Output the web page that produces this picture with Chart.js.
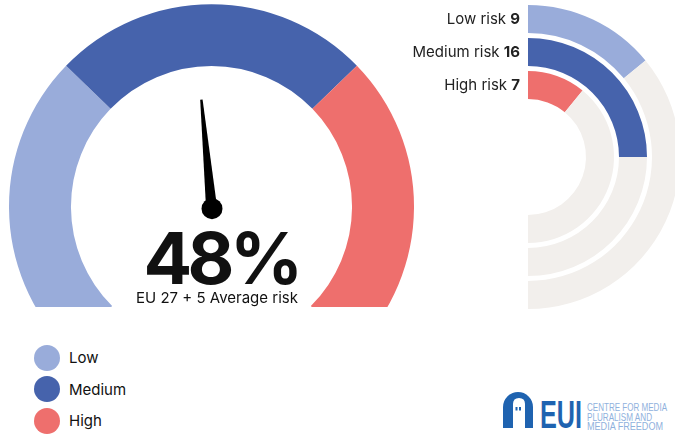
<!DOCTYPE html>
<html>
<head>
<meta charset="utf-8">
<script src="https://cdn.jsdelivr.net/npm/chart.js@4.4.1/dist/chart.umd.min.js"></script>
<style>
  html, body { margin: 0; padding: 0; background: #fff; }
  body { width: 675px; height: 434px; position: relative; overflow: hidden; font-family: Inter, "Noto Sans", sans-serif; color: #111; }
  #gaugeBox { position: absolute; left: 0; top: 0; width: 420px; height: 307px; overflow: hidden; }
  #gauge { position: absolute; left: 9px; top: 4px; }
  #rings { position: absolute; left: 400px; top: 5px; }
  #bigValue { position: absolute; left: 121px; width: 200px; top: 222px; text-align: center; font-size: 72px; line-height: 72px; font-weight: 700; letter-spacing: -4.5px; }
  #caption { position: absolute; left: 117px; width: 200px; top: 290px; text-align: center; font-size: 15px; line-height: 16px; }
  #legend { position: absolute; left: 34px; top: 342px; }
  .item { display: flex; align-items: center; height: 31.5px; font-size: 15px; }
  .dot { width: 26px; height: 26px; border-radius: 50%; margin-right: 9px; }
  #logo { position: absolute; left: 500px; top: 385px; }
</style>
</head>
<body>
<div id="gaugeBox"><canvas id="gauge" width="405" height="346"></canvas></div>
<div id="bigValue"></div>
<div id="caption">EU 27 + 5 Average risk</div>
<canvas id="rings" width="280" height="304"></canvas>
<div id="legend"></div>
<svg id="logo" width="175" height="49" viewBox="0 0 175 49">
  <path d="M3,43 V22 A15,15 0 0 1 33,22 V43 Z" fill="#1F63B0"/>
  <path d="M13,43 V19 Q13,13 19,13 Q25,13 25,19 V43 Z" fill="#fff"/>
  <rect x="15.5" y="22" width="2" height="3.5" fill="#1F63B0"/>
  <rect x="19" y="22" width="2" height="3.5" fill="#1F63B0"/>
  <text x="40" y="43" font-family="Liberation Sans, Arial, sans-serif" font-weight="bold" font-size="39" fill="#1F63B0" textLength="42" lengthAdjust="spacingAndGlyphs">EUI</text>
  <g font-family="Liberation Sans, Arial, sans-serif" font-size="10" fill="#8FB1DD">
    <text x="87" y="26" textLength="80" lengthAdjust="spacingAndGlyphs">CENTRE FOR MEDIA</text>
    <text x="87" y="36" textLength="65" lengthAdjust="spacingAndGlyphs">PLURALISM AND</text>
    <text x="87" y="45" textLength="76" lengthAdjust="spacingAndGlyphs">MEDIA FREEDOM</text>
  </g>
</svg>
<script>
// gauge: risk bands and the EU average
const bandNames = ['Low', 'Medium', 'High'];
const bandSizes = [33, 34, 33];
const bandColors = ['#99ACDA', '#4663AC', '#EE6F6D'];
const avgRisk = 48;

// rings: number of countries per risk level
const riskLabels = ['Low risk', 'Medium risk', 'High risk'];
const riskCounts = [9, 16, 7];
const countryTotal = 32;
const trackColor = '#F2EFEC';

document.getElementById('bigValue').textContent = avgRisk + '%';

const legend = document.getElementById('legend');
bandNames.forEach((name, i) => {
    const row = document.createElement('div');
    row.className = 'item';
    row.innerHTML = '<span class="dot" style="background:' + bandColors[i] + '"></span>' + name;
    legend.appendChild(row);
});

const needlePlugin = {
    id: 'needle',
    afterDatasetsDraw(chart) {
        const arc = chart.getDatasetMeta(0).data[0];
        const cx = arc.x, cy = arc.y;
        const opts = chart.options;
        const deg = opts.rotation + opts.circumference * avgRisk / 100 - 90;
        const a = deg * Math.PI / 180;
        const len = arc.innerRadius * 0.765;
        const ctx = chart.ctx;
        const px = -Math.sin(a), py = Math.cos(a);
        ctx.save();
        ctx.fillStyle = '#000';
        ctx.beginPath();
        ctx.moveTo(cx + px * 5.5, cy + py * 5.5);
        ctx.lineTo(cx + Math.cos(a) * len + px * 1.2, cy + Math.sin(a) * len + py * 1.2);
        ctx.lineTo(cx + Math.cos(a) * len - px * 1.2, cy + Math.sin(a) * len - py * 1.2);
        ctx.lineTo(cx - px * 5.5, cy - py * 5.5);
        ctx.closePath();
        ctx.fill();
        ctx.beginPath();
        ctx.arc(cx + 0.5, cy + 2, 10.5, 0, Math.PI * 2);
        ctx.fill();
        ctx.restore();
    }
};

new Chart(document.getElementById('gauge'), {
    type: 'doughnut',
    data: {
        labels: bandNames,
        datasets: [{
            data: bandSizes,
            backgroundColor: bandColors,
            borderWidth: 0,
            hoverOffset: 0
        }]
    },
    options: {
        responsive: false,
        animation: false,
        rotation: -135,
        circumference: 270,
        cutout: '69.4%',
        plugins: { legend: { display: false }, tooltip: { enabled: false } }
    },
    plugins: [needlePlugin]
});

const ringLabels = {
    id: 'ringLabels',
    afterDatasetsDraw(chart) {
        const ctx = chart.ctx;
        ctx.save();
        ctx.textBaseline = 'middle';
        ctx.fillStyle = '#222';
        riskLabels.forEach((label, i) => {
            const arc = chart.getDatasetMeta(i * 2).data[0];
            const y = arc.y - (arc.outerRadius + arc.innerRadius) / 2;
            const x = arc.x - 8;
            ctx.font = 'bold 15px Inter, "Noto Sans", sans-serif';
            const num = String(riskCounts[i]);
            const wNum = ctx.measureText(num).width;
            ctx.textAlign = 'right';
            ctx.fillText(num, x, y);
            ctx.font = '15px Inter, "Noto Sans", sans-serif';
            ctx.fillText(label + ' ', x - wNum, y);
        });
        ctx.restore();
    }
};

// rings 28px thick with 5px spacers between them
const ringSets = [];
riskCounts.forEach((v, i) => {
    if (i > 0) ringSets.push({ data: [], weight: 5, borderWidth: 0 });
    ringSets.push({
        label: riskLabels[i],
        data: [v, countryTotal - v],
        backgroundColor: [bandColors[i], trackColor],
        borderWidth: 0,
        hoverOffset: 0,
        weight: 28
    });
});

new Chart(document.getElementById('rings'), {
    type: 'doughnut',
    data: { labels: ['Countries', 'Others'], datasets: ringSets },
    options: {
        responsive: false,
        animation: false,
        rotation: 0,
        circumference: 180,
        cutout: '38.16%',
        layout: { padding: { left: 128 } },
        plugins: { legend: { display: false }, tooltip: { enabled: false } }
    },
    plugins: [ringLabels]
});
</script>
</body>
</html>
